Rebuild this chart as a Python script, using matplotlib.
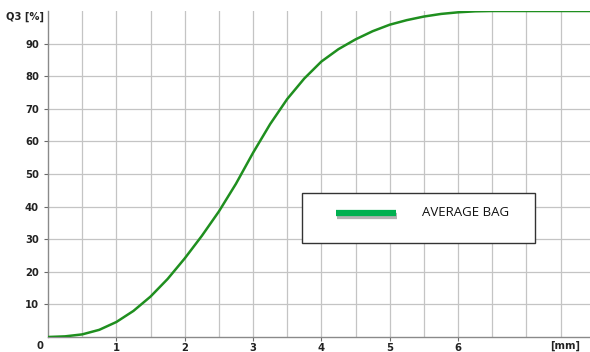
import matplotlib
matplotlib.use('Agg')
from matplotlib import pyplot as plt
from matplotlib import patheffects as pe
from matplotlib.patches import Rectangle
import numpy as np

# cumulative distribution Q3
size_mm = [0, 0.25, 0.5, 0.75, 1.0, 1.25, 1.5, 1.75, 2.0, 2.25, 2.5, 2.75, 3.0,
           3.25, 3.5, 3.75, 4.0, 4.25, 4.5, 4.75, 5.0, 5.25, 5.5, 5.75, 6.0,
           6.25, 6.5, 7.0, 7.5, 7.93]
q3 = [0, 0.2, 0.8, 2.2, 4.6, 8.0, 12.4, 17.8, 24.1, 31.0, 38.5, 47.0, 56.5,
      65.3, 73.0, 79.3, 84.5, 88.3, 91.3, 93.8, 95.8, 97.2, 98.3, 99.1, 99.6,
      99.9, 100, 100, 100, 100]
x_ticks = [1, 2, 3, 4, 5, 6]
y_ticks = [10, 20, 30, 40, 50, 60, 70, 80, 90]
series_name = 'AVERAGE BAG'

fig = plt.figure(figsize=(5.9, 3.52), dpi=100)
ax = fig.add_axes([48 / 590, 15 / 352, 542 / 590, 326 / 352])

ax.plot(size_mm, q3, color='#1f8f1f', linewidth=1.8, zorder=3,
        solid_joinstyle='round')
ax.set_xlim(0, 7.93)
ax.set_ylim(0, 100)

ax.set_xticks(x_ticks)
ax.set_xticks(np.arange(0.5, 7.6, 0.5), minor=True)
ax.set_yticks(y_ticks)
ax.grid(True, which='both', color='#c4c4c4', linewidth=0.9)
ax.set_axisbelow(True)
for s in ['top', 'right']:
    ax.spines[s].set_visible(False)
for s in ['left', 'bottom']:
    ax.spines[s].set_color('#8a8a8a')
    ax.spines[s].set_linewidth(1.0)
ax.tick_params(axis='both', which='major', length=3, color='#6a6a6a',
               labelsize=7.2, labelcolor='#222222')
ax.tick_params(axis='x', which='minor', length=0)
ax.tick_params(axis='x', pad=1.5)
for lab in ax.get_xticklabels() + ax.get_yticklabels():
    lab.set_fontweight('bold')

fig.text(40 / 590, 1 - 346 / 352, '0', fontsize=7.2, fontweight='bold',
         color='#222222', ha='center', va='center')
fig.text(565 / 590, 1 - 346 / 352, '[mm]', fontsize=7.2, fontweight='bold',
         color='#222222', ha='center', va='center')
fig.text(44 / 590, 1 - 17 / 352, 'Q3 [%]', fontsize=7.2, fontweight='bold',
         color='#222222', ha='right', va='center')

# legend box
fig.patches.append(Rectangle((302 / 590, 1 - 243 / 352), 233 / 590, 50 / 352,
                             transform=fig.transFigure, facecolor='white',
                             edgecolor='#333333', linewidth=1.0, zorder=5))
fig.add_artist(plt.Line2D([336 / 590, 396 / 590], [1 - 213 / 352] * 2,
                          transform=fig.transFigure, color='#00b050',
                          linewidth=4.5, solid_capstyle='butt', zorder=6,
                          path_effects=[pe.SimpleLineShadow(offset=(1, -2), alpha=0.3),
                                        pe.Normal()]))
fig.text(422 / 590, 1 - 213 / 352, series_name, fontsize=9.5,
         family=['Open Sans', 'DejaVu Sans'], color='#111111',
         ha='left', va='center', zorder=6)

plt.savefig('out.png', dpi=100)
plt.close()
